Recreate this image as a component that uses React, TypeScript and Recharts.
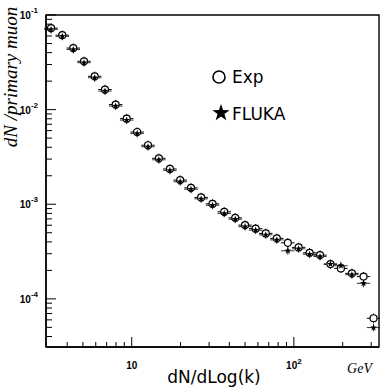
import { ScatterChart, Scatter, XAxis, YAxis, ErrorBar, ReferenceArea } from 'recharts';

// energy (GeV) of each point
const ENERGY = [3.18, 3.73, 4.36, 5.08, 5.91, 6.84, 7.96, 9.31, 10.8, 12.6, 14.7, 17.2, 19.9, 23.2, 26.8, 31.5,
  37.2, 43.5, 50.0, 58.1, 67.1, 78.5, 91.8, 107, 125, 145, 168, 195, 228, 269, 310];
const EXP = [0.0726, 0.0612, 0.0447, 0.0324, 0.0225, 0.0163, 0.0113, 0.00803, 0.0058, 0.0042, 0.00306, 0.00236,
  0.0018, 0.00149, 0.00118, 0.00101, 0.000832, 0.000718, 0.000602, 0.000552, 0.000492, 0.000436, 0.000391,
  0.00035, 0.000307, 0.00029, 0.000233, 0.00021, 0.000186, 0.000172, 0.0000624];
const FLUKA = [0.0705, 0.0595, 0.0432, 0.0313, 0.0217, 0.0157, 0.0109, 0.00775, 0.0056, 0.00405, 0.00295, 0.00228,
  0.00173, 0.00144, 0.00114, 0.000975, 0.0008, 0.000695, 0.00058, 0.000532, 0.000475, 0.00042, 0.000322,
  0.000338, 0.000296, 0.00028, 0.000233, 0.000224, 0.00018, 0.000146, 0.0000497];

const EXP_REL_ERR = 0.12;
const FLUKA_REL_ERR = 0.1;
const BIN_HALF = 1.1; // half bin width as a factor in log space

const X_DOMAIN = [2.96, 335];
const Y_DOMAIN = [3.1e-5, 0.1];
const X_TICKS = [4, 5, 6, 7, 8, 9, 10, 20, 30, 40, 50, 60, 70, 80, 90, 100, 200, 300];
const Y_TICKS = [
  0.00004, 0.00005, 0.00006, 0.00007, 0.00008, 0.00009,
  0.0001, 0.0002, 0.0003, 0.0004, 0.0005, 0.0006, 0.0007, 0.0008, 0.0009,
  0.001, 0.002, 0.003, 0.004, 0.005, 0.006, 0.007, 0.008, 0.009,
  0.01, 0.02, 0.03, 0.04, 0.05, 0.06, 0.07, 0.08, 0.09, 0.1,
];

const rows = (vals: number[], rel: number) =>
  ENERGY.map((e, i) => ({
    e,
    v: vals[i],
    ex: [e - e / BIN_HALF, e * BIN_HALF - e],
    ey: [vals[i] - vals[i] / (1 + rel), vals[i] * rel],
  }));
const expRows = rows(EXP, EXP_REL_ERR);
const flukaRows = rows(FLUKA, FLUKA_REL_ERR);

const isDecade = (v: number) => {
  const lg = Math.log10(v);
  return Math.abs(lg - Math.round(lg)) < 1e-6;
};

const tickFont = { fontFamily: 'Liberation Sans, Arial, sans-serif', fontWeight: 700, fill: '#000' };

function YTick({ x, y, payload }: any) {
  const v = payload.value;
  const major = isDecade(v);
  return (
    <g>
      <line x1={x} x2={x + (major ? 10 : 6)} y1={y} y2={y} stroke="#000" strokeWidth={1} />
      {major && (
        <text x={x - 8} y={y + 4} textAnchor="end" fontSize={10} {...tickFont}>
          10<tspan dy={-6} fontSize={8}>{Math.round(Math.log10(v))}</tspan>
        </text>
      )}
    </g>
  );
}

function XTick({ x, y, payload }: any) {
  const v = payload.value;
  const major = isDecade(v);
  const p = Math.round(Math.log10(v));
  return (
    <g>
      <line x1={x} x2={x} y1={y} y2={y - (major ? 10 : 5)} stroke="#000" strokeWidth={1} />
      {major && (
        <text x={x} y={y + 22} textAnchor="middle" fontSize={10} {...tickFont}>
          10{p !== 1 && <tspan dy={-5} fontSize={8}>{p}</tspan>}
        </text>
      )}
    </g>
  );
}

function starPoints(cx: number, cy: number, R: number, r: number) {
  const pts: string[] = [];
  for (let i = 0; i < 10; i++) {
    const a = ((-90 + i * 36) * Math.PI) / 180;
    const rad = i % 2 ? r : R;
    pts.push(`${cx + rad * Math.cos(a)},${cy + rad * Math.sin(a)}`);
  }
  return pts.join(' ');
}

const CircleMark = (p: any) => (
  <circle cx={p.cx} cy={p.cy} r={3.5} fill="#fff" stroke="#000" strokeWidth={1.2} />
);
const StarMark = (p: any) => <polygon points={starPoints(p.cx, p.cy, 3.6, 1.5)} fill="#000" />;

const gothic = 'DejaVu Sans, Verdana, sans-serif';

export default function App() {
  return (
    <div style={{ position: 'absolute', left: 0, top: 0, background: '#fff' }}>
      <ScatterChart width={380} height={390} margin={{ top: 15, right: 1, left: 0, bottom: 0 }}>
        <ReferenceArea x1={X_DOMAIN[0]} x2={X_DOMAIN[1]} y1={Y_DOMAIN[0]} y2={Y_DOMAIN[1]}
          fill="none" stroke="#000" strokeWidth={1.4} ifOverflow="visible" />
        <XAxis dataKey="e" type="number" scale="log" domain={X_DOMAIN} allowDataOverflow ticks={X_TICKS}
          interval={0} tickSize={0} tickMargin={0} tickLine={false} tick={<XTick />} height={43}
          axisLine={{ stroke: '#000', strokeWidth: 1.4 }} />
        <YAxis dataKey="v" type="number" scale="log" domain={Y_DOMAIN} allowDataOverflow ticks={Y_TICKS}
          interval={0} tickSize={0} tickMargin={0} tickLine={false} tick={<YTick />} width={46}
          axisLine={{ stroke: '#000', strokeWidth: 1.4 }} />
        <Scatter name="Exp" data={expRows} shape={CircleMark} isAnimationActive={false}>
          <ErrorBar dataKey="ex" direction="x" width={0} stroke="#000" strokeWidth={1} />
          <ErrorBar dataKey="ey" direction="y" width={0} stroke="#000" strokeWidth={1} />
        </Scatter>
        <Scatter name="FLUKA" data={flukaRows} shape={StarMark} isAnimationActive={false}>
          <ErrorBar dataKey="ex" direction="x" width={0} stroke="#000" strokeWidth={0.8} />
          <ErrorBar dataKey="ey" direction="y" width={0} stroke="#000" strokeWidth={0.8} />
        </Scatter>

        <text transform="translate(17,77) rotate(-90)" textAnchor="middle" fontFamily="Liberation Serif, serif"
          fontStyle="italic" fontSize={19} fill="#000">dN /primary muon</text>
        <text x={214} y={383} textAnchor="middle" fontFamily={gothic} fontSize={17} fill="#000">dN/dLog(k)</text>
        <text x={372} y={373} textAnchor="end" fontFamily="Liberation Serif, serif" fontStyle="italic"
          fontSize={14} fill="#000">GeV</text>

        <circle cx={219} cy={77} r={6} fill="#fff" stroke="#000" strokeWidth={1.6} />
        <text x={232} y={83} fontFamily={gothic} fontSize={17} fill="#000">Exp</text>
        <polygon points={starPoints(221, 113, 9, 3.6)} fill="#000" />
        <text x={232} y={120} fontFamily={gothic} fontSize={17} fill="#000">FLUKA</text>
      </ScatterChart>
    </div>
  );
}
